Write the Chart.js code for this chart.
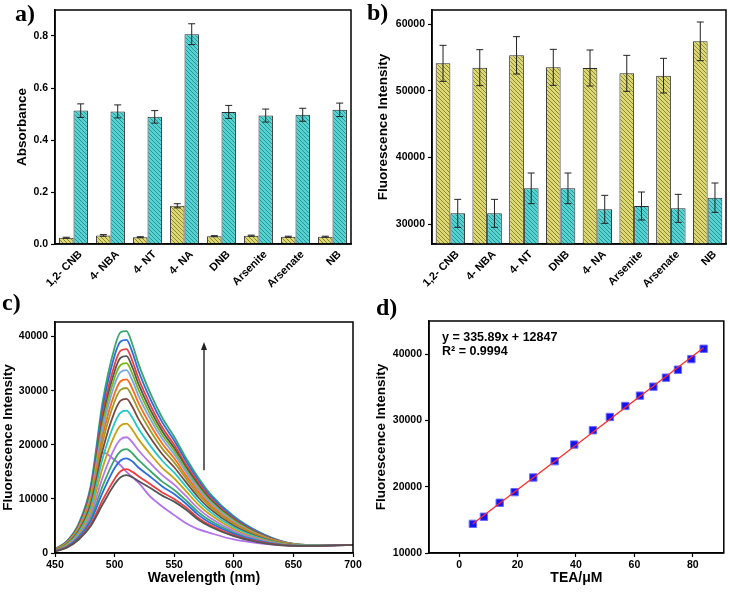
<!DOCTYPE html>
<html>
<head>
<meta charset="utf-8">
<script src="https://cdn.jsdelivr.net/npm/chart.js@4.4.0/dist/chart.umd.min.js"></script>
<style>
    body { margin: 0; background: #fff; width: 730px; height: 595px; position: relative; overflow: hidden; }
    .painel { position: absolute; }
    .rotulo { position: absolute; font: bold 24px "Liberation Serif", "Times New Roman", serif; line-height: 24px; color: #000; }
    .equacao { position: absolute; font: bold 12.5px "Liberation Sans", Arial, sans-serif; line-height: 14px; color: #000; white-space: nowrap; }
</style>
</head>
<body>
<div class="painel" style="left:0;top:0;width:365px;height:290px"><canvas id="chartA"></canvas></div>
<div class="painel" style="left:365px;top:0;width:365px;height:290px"><canvas id="chartB"></canvas></div>
<div class="painel" style="left:0;top:290px;width:365px;height:305px"><canvas id="chartC"></canvas></div>
<div class="painel" style="left:365px;top:290px;width:365px;height:305px"><canvas id="chartD"></canvas></div>

<div class="rotulo" style="left:15px;top:1px">a)</div>
<div class="rotulo" style="left:367px;top:0px">b)</div>
<div class="rotulo" style="left:2px;top:290px">c)</div>
<div class="rotulo" style="left:376px;top:295px">d)</div>
<div class="equacao" style="left:442px;top:330px">y = 335.89x + 12847</div>
<div class="equacao" style="left:442px;top:344px">R² = 0.9994</div>

<script>
// ==========================================
// Dados
// ==========================================
const categoriasA = ['1,2- CNB', '4- NBA', '4- NT', '4- NA', 'DNB', 'Arsenite', 'Arsenate', 'NB'];
const amareloA = [0.024, 0.033, 0.026, 0.147, 0.030, 0.032, 0.028, 0.028];
const amareloErroA = [0.002, 0.003, 0.002, 0.008, 0.002, 0.002, 0.002, 0.002];
const cianoA = [0.513, 0.510, 0.489, 0.807, 0.508, 0.494, 0.497, 0.516];
const cianoErroA = [0.026, 0.025, 0.024, 0.040, 0.025, 0.025, 0.025, 0.026];
const ticksA = [0, 0.2, 0.4, 0.6, 0.8];

const categoriasB = ['1,2- CNB', '4- NBA', '4- NT', 'DNB', '4- NA', 'Arsenite', 'Arsenate', 'NB'];
const amareloB = [54100, 53450, 55300, 53500, 53400, 52600, 52250, 57400];
const amareloErroB = [2700, 2700, 2800, 2700, 2700, 2700, 2600, 2900];
const cianoB = [31600, 31600, 35350, 35350, 32200, 32700, 32350, 33950];
const cianoErroB = [2100, 2100, 2300, 2300, 2100, 2100, 2100, 2200];
const ticksB = [30000, 40000, 50000, 60000];

// Espectros (nm)
const comprimentos = [450, 460, 470, 480, 490, 500, 505, 510, 515, 520, 530, 540, 550, 560, 570, 580, 600, 620, 640, 660, 700];
const espectros = [
    [300, 1000, 2500, 5000, 9000, 12700, 14000, 14400, 14000, 13300, 12000, 10600, 9500, 8000, 6200, 4900, 3100, 2000, 1400, 1300, 1500],
    [300, 1050, 2600, 5300, 9800, 13700, 15100, 15500, 15000, 14200, 12700, 11200, 10000, 8400, 6500, 5150, 3250, 2100, 1450, 1300, 1500],
    [350, 1150, 2850, 5900, 11200, 15700, 17100, 17500, 16900, 15800, 14100, 12300, 10900, 9100, 7100, 5600, 3550, 2250, 1500, 1300, 1500],
    [370, 1200, 3050, 6350, 12400, 17250, 18800, 19200, 18400, 17200, 15150, 13200, 11650, 9700, 7600, 6000, 3750, 2350, 1550, 1350, 1500],
    [400, 1300, 3300, 7000, 14000, 19350, 21000, 21400, 20450, 19000, 16600, 14400, 12650, 10500, 8250, 6500, 4050, 2550, 1600, 1350, 1500],
    [450, 1450, 3550, 7700, 15800, 21750, 23550, 23900, 22750, 21050, 18250, 15750, 13800, 11400, 9000, 7100, 4400, 2700, 1700, 1350, 1500],
    [480, 1550, 3850, 8350, 17500, 24000, 25950, 26300, 24950, 23000, 19800, 17050, 14850, 12250, 9700, 7650, 4750, 2900, 1750, 1400, 1500],
    [500, 1650, 4100, 9000, 19050, 26100, 28150, 28500, 27000, 24800, 21300, 18250, 15850, 13050, 10350, 8150, 5050, 3050, 1800, 1400, 1500],
    [550, 1700, 4300, 9550, 20500, 28000, 30150, 30500, 28800, 26450, 22600, 19300, 16750, 13750, 10900, 8600, 5350, 3200, 1900, 1400, 1500],
    [550, 1800, 4500, 10000, 21650, 29500, 31750, 32100, 30300, 27750, 23650, 20200, 17500, 14300, 11400, 8950, 5550, 3350, 1950, 1450, 1500],
    [600, 1850, 4700, 10450, 22850, 31150, 33450, 33800, 31850, 29100, 24750, 21100, 18250, 14950, 11900, 9350, 5800, 3450, 2000, 1450, 1500],
    [600, 1950, 4850, 10850, 23800, 32400, 34750, 35100, 33050, 30200, 25600, 21800, 18850, 15400, 12250, 9650, 6000, 3550, 2000, 1450, 1500],
    [650, 2000, 5000, 11200, 24700, 33600, 36100, 36400, 34250, 31250, 26450, 22500, 19400, 15850, 12650, 9950, 6150, 3650, 2050, 1450, 1500],
    [650, 2050, 5150, 11550, 25650, 34850, 37400, 37700, 35450, 32300, 27350, 23200, 20000, 16300, 13050, 10250, 6350, 3750, 2100, 1500, 1500],
    [700, 2150, 5300, 12050, 26850, 36500, 39100, 39400, 37050, 33700, 28450, 24150, 20800, 16950, 13550, 10650, 6600, 3900, 2150, 1500, 1500],
    [700, 2200, 5500, 12500, 28000, 38000, 40800, 41000, 38500, 35000, 29500, 25000, 21500, 17500, 14000, 11000, 6800, 4000, 2200, 1500, 1500]
];
const espectroBranco = [400, 1800, 3800, 9000, 18600, 17200, 16200, 15000, 14000, 13000, 10400, 8600, 7000, 5500, 4400, 3700, 2500, 1850, 1500, 1450, 1500];
const coresEspectros = ['#555555', '#f03c3c', '#2a6ee0', '#3aa66a', '#b478e8', '#c8a010', '#22c8c8', '#7a4a40',
                        '#a09a28', '#ff6a1a', '#78a8e0', '#78b81e', '#555555', '#f03c3c', '#2a6ee0', '#3aa66a'];
const ticksCx = [450, 500, 550, 600, 650, 700];
const ticksCy = [0, 10000, 20000, 30000, 40000];

// Seta (nm, intensidade)
const setaX = 575;
const setaDe = 15300;
const setaAte = 39000;

// Calibração
const teaX = [4.7, 8.5, 13.9, 19.0, 25.4, 32.7, 39.4, 45.8, 51.6, 56.9, 61.9, 66.5, 70.8, 74.9, 79.5, 83.7];
const teaY = [14400, 15470, 17580, 19180, 21390, 23850, 26360, 28520, 30520, 32180, 33740, 35090, 36450, 37650, 39250, 40810];
const ajusteX = [4.7, 83.7];
const ajusteY = [14426, 40961];
const ticksDx = [0, 20, 40, 60, 80];
const ticksDy = [10000, 20000, 30000, 40000];

// ==========================================
// Utilidades
// ==========================================
Chart.defaults.font.family = '"Liberation Sans", Arial, sans-serif';
Chart.defaults.font.weight = 'bold';
Chart.defaults.font.size = 10.5;
Chart.defaults.color = '#000';
Chart.defaults.animation = false;

function hachura(base, listra) {
    const c = document.createElement('canvas');
    c.width = 4; c.height = 4;
    const g = c.getContext('2d');
    g.fillStyle = base;
    g.fillRect(0, 0, 4, 4);
    g.strokeStyle = listra;
    g.lineWidth = 1;
    [-4, 0, 4].forEach(o => {
        g.beginPath();
        g.moveTo(o, 0);
        g.lineTo(o + 4, 4);
        g.stroke();
    });
    return g.createPattern(c, 'repeat');
}

// força os ticks a partir das listas
const fixarTicks = lista => s => { s.ticks = lista.map(value => ({ value })); };

const moldura = {
    id: 'moldura',
    afterDraw(chart) {
        const { ctx, chartArea: a } = chart;
        ctx.save();
        ctx.strokeStyle = '#000';
        ctx.lineWidth = 1.5;
        ctx.strokeRect(a.left, a.top, a.right - a.left, a.bottom - a.top);
        ctx.restore();
    }
};

const barrasErro = {
    id: 'barrasErro',
    afterDatasetsDraw(chart) {
        const ctx = chart.ctx;
        const y = chart.scales.y;
        chart.data.datasets.forEach((ds, i) => {
            if (!ds.erros) return;
            chart.getDatasetMeta(i).data.forEach((bar, j) => {
                const topo = y.getPixelForValue(ds.data[j] + ds.erros[j]);
                const base = y.getPixelForValue(ds.data[j] - ds.erros[j]);
                ctx.save();
                ctx.strokeStyle = '#222';
                ctx.lineWidth = 1;
                ctx.beginPath();
                ctx.moveTo(bar.x, topo); ctx.lineTo(bar.x, base);
                ctx.moveTo(bar.x - 3.5, topo); ctx.lineTo(bar.x + 3.5, topo);
                ctx.moveTo(bar.x - 3.5, base); ctx.lineTo(bar.x + 3.5, base);
                ctx.stroke();
                ctx.restore();
            });
        });
    }
};

const seta = {
    id: 'seta',
    afterDatasetsDraw(chart) {
        const { ctx, scales: { x, y } } = chart;
        const px = x.getPixelForValue(setaX);
        const y0 = y.getPixelForValue(setaDe);
        const y1 = y.getPixelForValue(setaAte);
        ctx.save();
        ctx.strokeStyle = '#333';
        ctx.fillStyle = '#222';
        ctx.lineWidth = 1.5;
        ctx.beginPath(); ctx.moveTo(px, y0); ctx.lineTo(px, y1 + 5); ctx.stroke();
        ctx.beginPath(); ctx.moveTo(px, y1); ctx.lineTo(px - 3, y1 + 8); ctx.lineTo(px + 3, y1 + 8); ctx.closePath(); ctx.fill();
        ctx.restore();
    }
};

const titulo = (texto, tam) => ({ display: true, text: texto, font: { size: tam, weight: 'bold' }, color: '#000', padding: 0 });
const grade = { display: true, drawOnChartArea: false, drawTicks: true, tickLength: 4, color: '#000', tickWidth: 1.2 };
const borda = { display: true, color: '#000', width: 1.5 };
const semVirgula = v => String(v);

function opcoesBarras(padding, larguraY, tituloY, y) {
    return {
        responsive: true,
        maintainAspectRatio: false,
        layout: { padding },
        plugins: { legend: { display: false }, tooltip: { enabled: false } },
        scales: {
            x: {
                grid: { display: false },
                border: borda,
                ticks: { maxRotation: 45, minRotation: 45, autoSkip: false, padding: -4, labelOffset: 7, font: { size: 11, weight: 'bold' } },
                afterFit: s => { s.height = 46; }
            },
            y: Object.assign({
                grid: grade,
                border: borda,
                title: titulo(tituloY, 13.5),
                afterFit: s => { s.width = larguraY; }
            }, y)
        }
    };
}

function serieBarra(valores, erros, base, listra, pct) {
    return {
        data: valores,
        erros,
        backgroundColor: hachura(base, listra),
        borderColor: '#2a2a2a',
        borderWidth: 1,
        categoryPercentage: pct,
        barPercentage: 1.0
    };
}

// ==========================================
// a) Absorbância
// ==========================================
new Chart(document.getElementById('chartA'), {
    type: 'bar',
    data: {
        labels: categoriasA,
        datasets: [
            serieBarra(amareloA, amareloErroA, '#ddd872', '#8c8936', 0.78),
            serieBarra(cianoA, cianoErroA, '#55d3d3', '#2c9494', 0.78)
        ]
    },
    options: opcoesBarras({ left: 14, top: 10, right: 14, bottom: 0 }, 41, 'Absorbance', {
        min: 0, max: 0.9,
        afterBuildTicks: fixarTicks(ticksA),
        ticks: { padding: 3, callback: v => v.toFixed(1) }
    }),
    plugins: [barrasErro, moldura]
});

// ==========================================
// b) Fluorescência
// ==========================================
new Chart(document.getElementById('chartB'), {
    type: 'bar',
    data: {
        labels: categoriasB,
        datasets: [
            serieBarra(amareloB, amareloErroB, '#ddd872', '#8c8936', 0.8),
            serieBarra(cianoB, cianoErroB, '#55d3d3', '#2c9494', 0.8)
        ]
    },
    options: opcoesBarras({ left: 10, top: 10, right: 4, bottom: 0 }, 57, 'Fluorescence Intensity', {
        min: 27000, max: 62100,
        afterBuildTicks: fixarTicks(ticksB),
        ticks: { padding: 3, callback: semVirgula }
    }),
    plugins: [barrasErro, moldura]
});

// ==========================================
// c) Espectros de emissão
// ==========================================
const seriesEspectros = espectros.map((valores, i) => ({
    data: comprimentos.map((w, k) => ({ x: w, y: valores[k] })),
    borderColor: coresEspectros[i],
    borderWidth: 1.8,
    pointRadius: 0,
    cubicInterpolationMode: 'monotone'
}));
seriesEspectros.push({
    data: comprimentos.map((w, k) => ({ x: w, y: espectroBranco[k] })),
    borderColor: '#b070f0',
    borderWidth: 1.8,
    pointRadius: 0,
    cubicInterpolationMode: 'monotone'
});

new Chart(document.getElementById('chartC'), {
    type: 'line',
    data: { datasets: seriesEspectros },
    options: {
        responsive: true,
        maintainAspectRatio: false,
        layout: { padding: { left: 0, top: 32, right: 12, bottom: 8 } },
        plugins: { legend: { display: false }, tooltip: { enabled: false } },
        scales: {
            x: {
                type: 'linear', min: 450, max: 700,
                grid: grade, border: borda,
                title: titulo('Wavelength (nm)', 14),
                afterBuildTicks: fixarTicks(ticksCx),
                ticks: { padding: 2 },
                afterFit: s => { s.height = 34; }
            },
            y: {
                min: 0, max: 42700,
                grid: grade, border: borda,
                title: titulo('Fluorescence Intensity', 13.5),
                afterBuildTicks: fixarTicks(ticksCy),
                ticks: { padding: 3, callback: semVirgula },
                afterFit: s => { s.width = 55; }
            }
        }
    },
    plugins: [seta, moldura]
});

// ==========================================
// d) Curva de calibração
// ==========================================
new Chart(document.getElementById('chartD'), {
    type: 'scatter',
    data: {
        datasets: [
            {
                type: 'line',
                data: ajusteX.map((x, i) => ({ x, y: ajusteY[i] })),
                borderColor: '#ff2a2a',
                borderWidth: 1.3,
                pointRadius: 0
            },
            {
                data: teaX.map((x, i) => ({ x, y: teaY[i] })),
                pointStyle: 'rect',
                pointRadius: 5.2,
                backgroundColor: '#1414f0',
                borderColor: '#6a6aff',
                borderWidth: 1
            }
        ]
    },
    options: {
        responsive: true,
        maintainAspectRatio: false,
        layout: { padding: { left: 8, top: 31, right: 3, bottom: 8 } },
        plugins: { legend: { display: false }, tooltip: { enabled: false } },
        scales: {
            x: {
                type: 'linear', min: -10.3, max: 90.6,
                grid: grade, border: borda,
                title: titulo('TEA/\u03bcM', 14),
                afterBuildTicks: fixarTicks(ticksDx),
                ticks: { padding: 2 },
                afterFit: s => { s.height = 34; }
            },
            y: {
                min: 10000, max: 45000,
                grid: grade, border: borda,
                title: titulo('Fluorescence Intensity', 13.5),
                afterBuildTicks: fixarTicks(ticksDy),
                ticks: { padding: 3, callback: semVirgula },
                afterFit: s => { s.width = 56; }
            }
        }
    },
    plugins: [moldura]
});
</script>
</body>
</html>
